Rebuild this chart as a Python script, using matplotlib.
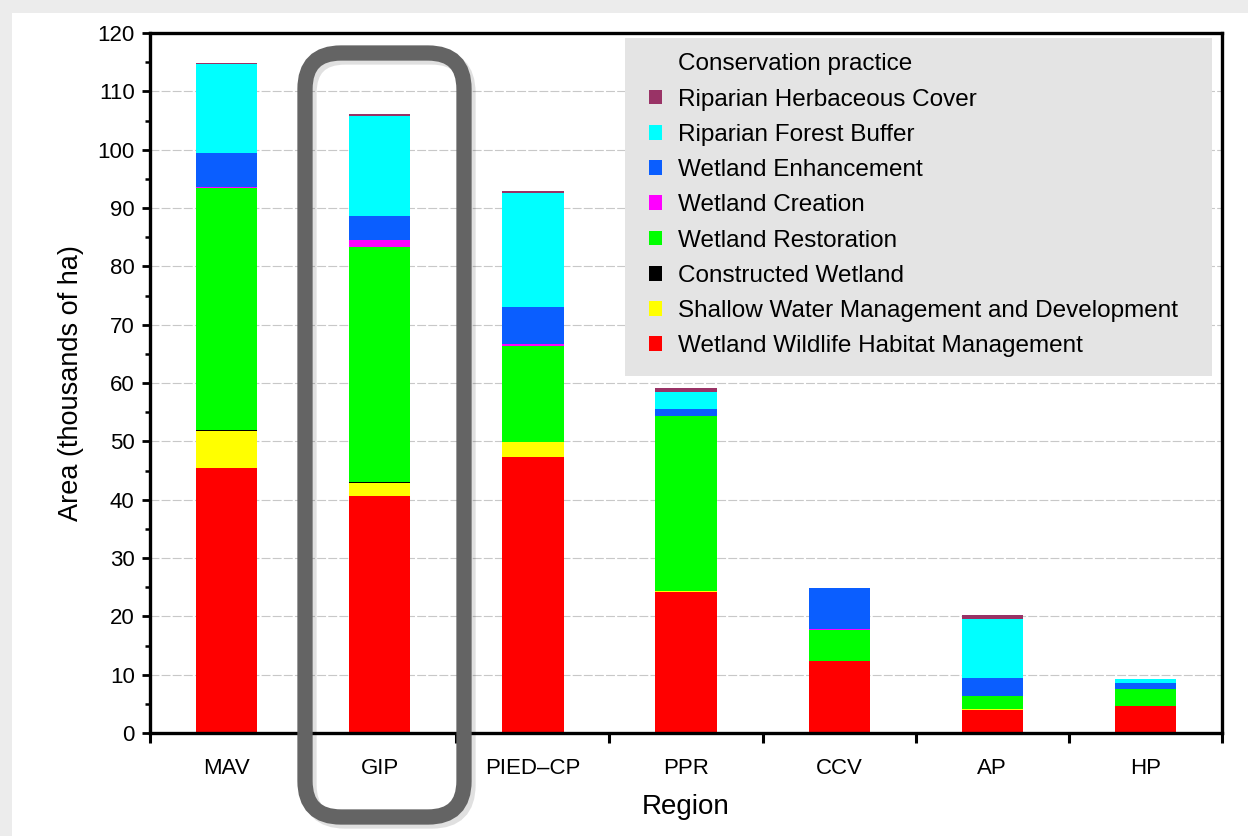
import matplotlib.pyplot as plt
from matplotlib.patches import Patch, FancyBboxPatch, Rectangle
import numpy as np

regions = ["MAV", "GIP", "PIED\u2013CP", "PPR", "CCV", "AP", "HP"]

# thousands of ha, stacked bottom -> top
habitat_mgmt = [45.4, 40.6, 47.4, 24.1, 12.4, 4.0, 4.7]
shallow_water = [6.4, 2.2, 2.5, 0.2, 0.0, 0.2, 0.0]
constructed = [0.15, 0.2, 0.0, 0.0, 0.0, 0.0, 0.0]
restoration = [41.5, 40.3, 16.4, 30.1, 5.3, 2.1, 2.9]
creation = [0.2, 1.2, 0.4, 0.0, 0.1, 0.0, 0.0]
enhancement = [5.8, 4.2, 6.3, 1.1, 7.0, 3.2, 1.0]
forest_buffer = [15.2, 17.1, 19.6, 2.9, 0.0, 10.0, 0.6]
herbaceous = [0.15, 0.4, 0.4, 0.7, 0.0, 0.8, 0.1]

series = [
    ("Wetland Wildlife Habitat Management", habitat_mgmt, "#ff0000"),
    ("Shallow Water Management and Development", shallow_water, "#ffff00"),
    ("Constructed Wetland", constructed, "#000000"),
    ("Wetland Restoration", restoration, "#00ff00"),
    ("Wetland Creation", creation, "#ff00ff"),
    ("Wetland Enhancement", enhancement, "#0a5eff"),
    ("Riparian Forest Buffer", forest_buffer, "#00ffff"),
    ("Riparian Herbaceous Cover", herbaceous, "#993366"),
]

plt.rcParams['font.family'] = ['Liberation Sans', 'DejaVu Sans']

fig = plt.figure(figsize=(12.48, 8.36), dpi=100, facecolor="#ececec")
fig.add_artist(Rectangle((12, 0), 1248, 823, transform=None,
                         facecolor="white", edgecolor="none", zorder=-10))
ax = fig.add_axes([0.1202, 0.1232, 0.859, 0.8373])

x = np.arange(len(regions)) + 0.5
bottom = np.zeros(len(regions))
for name, vals, col in series:
    ax.bar(x, vals, width=0.4, bottom=bottom, color=col, linewidth=0, zorder=2)
    bottom += np.array(vals)

ax.set_xlim(0, 7)
ax.set_ylim(0, 120)
ax.set_yticks(np.arange(0, 121, 10))
ax.set_yticks(np.arange(0, 121, 5), minor=True)
ax.yaxis.grid(True, which="major", color="#c8c8c8", linewidth=0.8,
              linestyle=(0, (8, 2)), zorder=0)
ax.set_axisbelow(True)

ax.set_xticks(np.arange(0, 8))
ax.set_xticklabels([])
ax.set_xticks(x, minor=True)
ax.set_xticklabels(regions, minor=True, fontsize=16)
ax.tick_params(axis="x", which="major", direction="out", length=7, width=2.2)
ax.tick_params(axis="x", which="minor", length=0, pad=18)
ax.tick_params(axis="y", which="major", direction="out", length=6, width=2,
               labelsize=16, pad=5)
ax.tick_params(axis="y", which="minor", direction="out", length=3.5, width=1.8)

for s in ax.spines.values():
    s.set_linewidth(2.4)

ax.set_ylabel("Area (thousands of ha)", fontsize=19.5, labelpad=10)
ax.set_xlabel("Region", fontsize=20, labelpad=11)

# legend panel
ax.add_patch(Rectangle((0.4431, 0.51), 0.5476, 0.4829, transform=ax.transAxes,
                       facecolor="#e4e4e4", edgecolor="none", zorder=4))

handles = [Patch(facecolor="none", edgecolor="none")]
labels = ["Conservation practice"]
for name, vals, col in reversed(series):
    handles.append(Patch(facecolor=col, edgecolor="none"))
    labels.append(name)

leg = ax.legend(handles, labels, loc="upper left", bbox_to_anchor=(0.4655, 0.971),
                fontsize=17.5, frameon=False, handlelength=0.55,
                handleheight=0.55, handletextpad=0.65, labelspacing=0.545,
                borderpad=0, borderaxespad=0)
leg.set_zorder(5)

# rounded highlight box around GIP (pixel coords)
shadow = FancyBboxPatch((309, 15), 159, 764, transform=None,
                        boxstyle="round,pad=0,rounding_size=36",
                        facecolor="none", edgecolor="#000000", linewidth=11,
                        alpha=0.12, zorder=9, clip_on=False)
box = FancyBboxPatch((305, 19), 159, 764, transform=None,
                     boxstyle="round,pad=0,rounding_size=36",
                     facecolor="none", edgecolor="#646464", linewidth=11,
                     zorder=10, clip_on=False)
fig.add_artist(shadow)
fig.add_artist(box)

fig.savefig("out.png", dpi=100, facecolor=fig.get_facecolor())
